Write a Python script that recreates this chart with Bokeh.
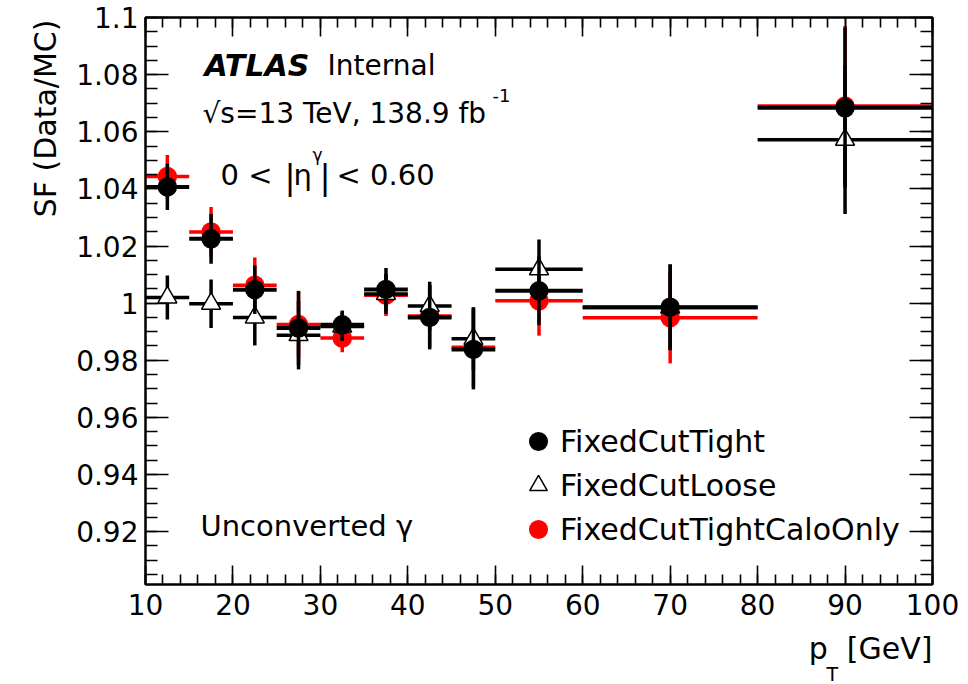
import math
from bokeh.plotting import figure
from bokeh.models import (FixedTicker, LinearAxis, CustomJSTickFormatter, Label,
                          Legend, LegendItem, Range1d, ColumnDataSource, Title)
from bokeh.embed import file_html
from bokeh.resources import INLINE

# ---------------- data ----------------
bin_lo = [10, 15, 20, 25, 30, 35, 40, 45, 50, 60, 80]
bin_hi = [15, 20, 25, 30, 35, 40, 45, 50, 60, 80, 100]

sf_tight = [1.0407, 1.0225, 1.0047, 0.9913, 0.9924, 1.0048, 0.9950, 0.9838, 1.0043, 0.9986, 1.0684]
err_tight = [0.0081, 0.0087, 0.0085, 0.0130, 0.0050, 0.0075, 0.0112, 0.0140, 0.0120, 0.0150, 0.0280]

sf_loose = [1.0020, 0.9998, 0.9950, 0.9888, 0.9918, 1.0032, 0.9990, 0.9875, 1.0119, 0.9985, 1.0572]
err_loose = [0.0077, 0.0085, 0.0098, 0.0120, 0.0050, 0.0070, 0.0085, 0.0110, 0.0104, 0.0150, 0.0260]

sf_calo = [1.0443, 1.0249, 1.0063, 0.9925, 0.9878, 1.0028, 0.9955, 0.9846, 1.0008, 0.9949, 1.0690]
err_calo = [0.0076, 0.0088, 0.0097, 0.0115, 0.0050, 0.0073, 0.0110, 0.0140, 0.0122, 0.0160, 0.0280]

x_ticks = [10, 20, 30, 40, 50, 60, 70, 80, 90, 100]
y_ticks = [0.92, 0.94, 0.96, 0.98, 1.0, 1.02, 1.04, 1.06, 1.08, 1.1]

FONT = "DejaVu Sans"

# ---------------- figure ----------------
FL, FR, FT, FB = 145, 932, 17, 584   # intended frame edges (canvas px)
p = figure(width=968, height=684, output_backend="svg", toolbar_location=None,
           x_range=Range1d(10, 100), y_range=Range1d(0.9015, 1.1),
           x_axis_type=None, y_axis_type=None,
           min_border_left=FL, min_border_right=968 - FR,
           min_border_top=FT, min_border_bottom=684 - FB)
p.background_fill_color = "white"
p.border_fill_color = "white"
p.outline_line_color = "black"
p.outline_line_width = 2
p.grid.visible = False

x_minor = [10 + 2 * i for i in range(46)]
y_minor = [round(0.9 + 0.005 * i, 4) for i in range(41)]

fmt_y = CustomJSTickFormatter(code="return String(parseFloat(tick.toFixed(3)));")
fmt_x = CustomJSTickFormatter(code="return String(Math.round(tick));")
fmt_empty = CustomJSTickFormatter(code="return '';")


def make_axis(kind, side, labels):
    ax = LinearAxis()
    if kind == "x":
        ax.ticker = FixedTicker(ticks=x_ticks, minor_ticks=x_minor)
        ax.major_tick_in, ax.minor_tick_in = 19, 10
        ax.formatter = fmt_x if labels else fmt_empty
        ax.major_label_standoff = 9 if labels else 0
    else:
        ax.ticker = FixedTicker(ticks=y_ticks, minor_ticks=y_minor)
        ax.major_tick_in, ax.minor_tick_in = 23, 12
        ax.formatter = fmt_y if labels else fmt_empty
        ax.major_label_standoff = 7 if labels else 0
    ax.major_tick_out = 0
    ax.minor_tick_out = 0
    ax.axis_line_width = 2
    ax.axis_line_color = "black"
    ax.major_tick_line_width = 1.6
    ax.minor_tick_line_width = 1.6
    ax.major_tick_line_color = "black"
    ax.minor_tick_line_color = "black"
    ax.major_label_text_font = FONT
    ax.major_label_text_font_size = "28px"
    ax.major_label_text_color = "black"
    p.add_layout(ax, side)
    return ax


make_axis("x", "below", True)
make_axis("x", "above", False)
make_axis("y", "left", True)
make_axis("y", "right", False)


def series(vals, errs):
    xc = [(a + b) / 2 for a, b in zip(bin_lo, bin_hi)]
    return ColumnDataSource(dict(
        lo=bin_lo, hi=bin_hi, xc=xc, y=vals,
        ylo=[v - e for v, e in zip(vals, errs)],
        yhi=[v + e for v, e in zip(vals, errs)]))


def draw(src, color, marker, fill, lw_h, lw_v, size):
    p.segment(x0="lo", y0="y", x1="hi", y1="y", source=src,
              line_color=color, line_width=lw_h)
    p.segment(x0="xc", y0="ylo", x1="xc", y1="yhi", source=src,
              line_color=color, line_width=lw_v)
    m = p.scatter(x="xc", y="y", source=src, marker=marker, size=size,
                  fill_color=fill, line_color=color if fill != "white" else "black",
                  line_width=1.5)
    return m


r_calo = draw(series(sf_calo, err_calo), "#ff0000", "circle", "#ff0000", 3.5, 3.5, 18)
r_loose = draw(series(sf_loose, err_loose), "black", "triangle", "white", 3.5, 3.5, 19)
r_tight = draw(series(sf_tight, err_tight), "black", "circle", "black", 4, 3.5, 18)

legend = Legend(items=[
    LegendItem(label="FixedCutTight", renderers=[r_tight]),
    LegendItem(label="FixedCutLoose", renderers=[r_loose]),
    LegendItem(label="FixedCutTightCaloOnly", renderers=[r_calo]),
], location=(371, 33), glyph_width=44, glyph_height=44, spacing=0,
    label_standoff=-4, padding=0, margin=0,
    label_text_font=FONT, label_text_font_size="30px", label_text_color="black",
    border_line_alpha=0, background_fill_alpha=0)
p.add_layout(legend)


# ---------------- texts inside the frame ----------------
def text(t, cx, cy, size=29, style="normal", align="left", angle=0.0, color="black"):
    p.add_layout(Label(x=cx - FL, y=FB - cy, x_units="screen", y_units="screen",
                       text=t, text_font=FONT, text_font_size=f"{size}px",
                       text_font_style=style, text_align=align,
                       text_baseline="alphabetic", angle=angle,
                       text_color=color))


text("ATLAS", 204, 65, 30, "bold italic")
text("Internal", 327, 65, 28)
text("\u221as=13 TeV, 138.9 fb", 202, 113, 28)
text("-1", 492, 95, 18)
text("0 <", 220, 174, 29)
text("|", 284, 177, 33)
text("\u03b7", 293, 174, 29)
text("\u03b3", 312, 154, 17)
text("|", 319, 177, 33)
text("< 0.60", 336, 174, 29)
text("Unconverted \u03b3", 200, 525, 29)


# ---------------- axis titles (side panels) ----------------
def title(t, side, size, align, standoff, offset=0, valign="bottom"):
    tt = Title(text=t, align=align, text_font=FONT, text_font_size=f"{size}px",
               text_font_style="normal", text_color="black", offset=offset,
               vertical_align=valign)
    tt.standoff = standoff
    p.add_layout(tt, side)


title("SF (Data/MC)", "left", 30, "right", 21, 2)
title("p\u00a0\u00a0[GeV]", "below", 30, "right", 23, 0)
title("T", "below", 19, "left", -30, 826 - FL, "top")

open("out.html", "w").write(file_html(p, INLINE))
